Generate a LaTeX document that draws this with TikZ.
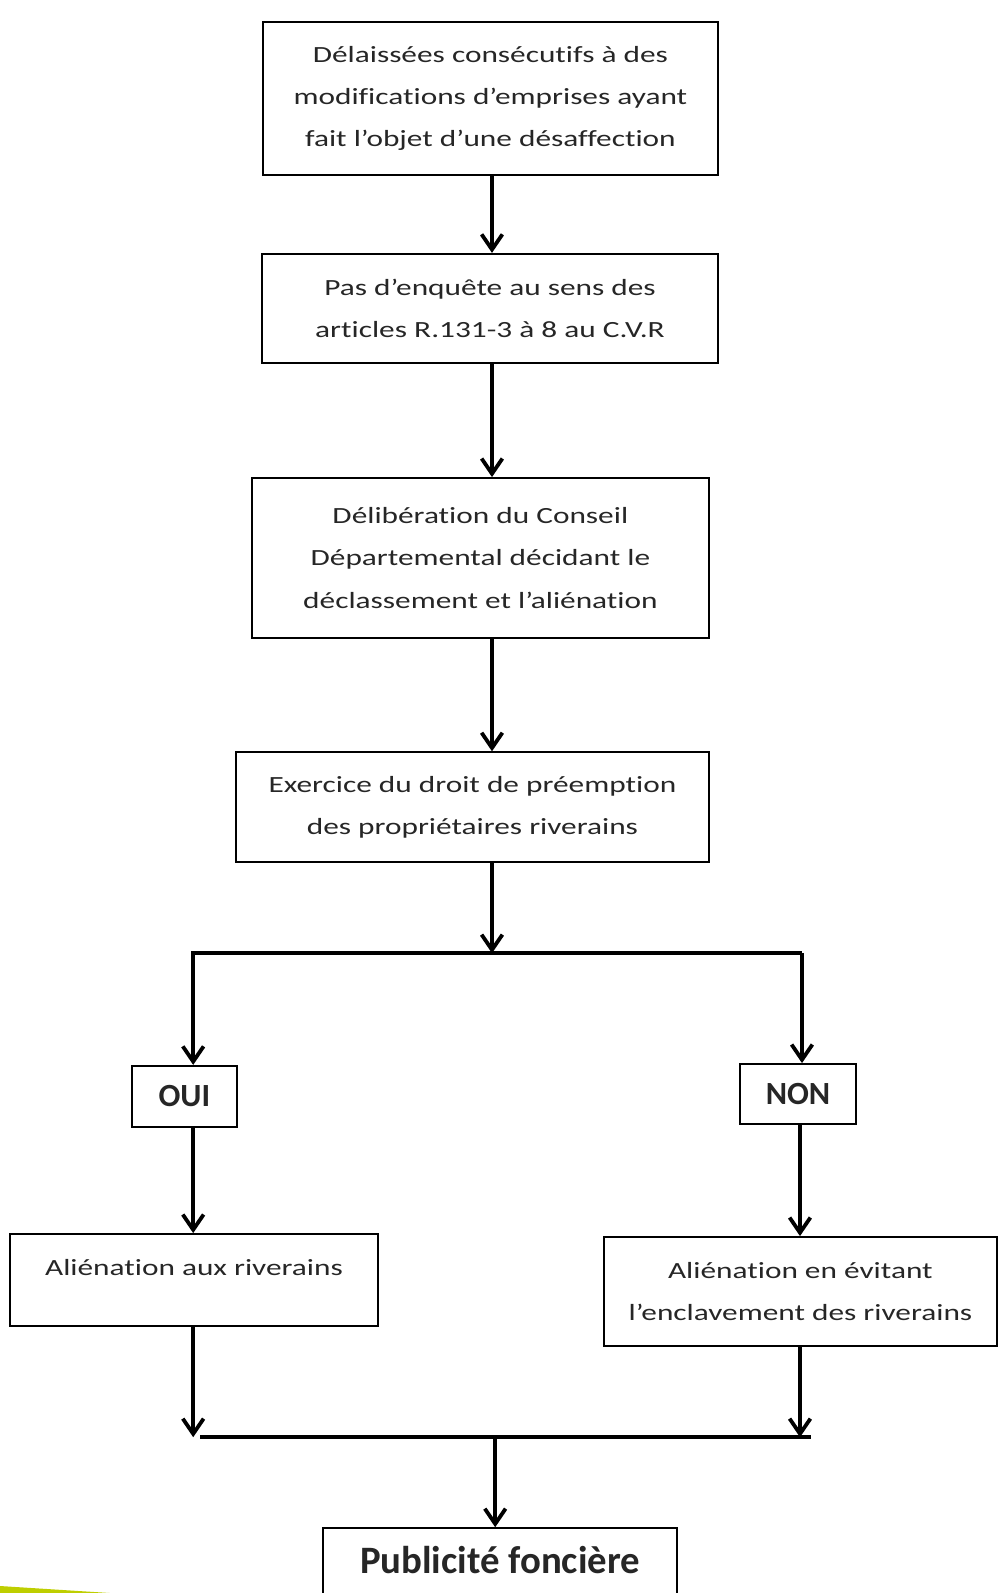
\documentclass[tikz,border=0pt]{standalone}
\usepackage{fontspec}
\setmainfont{Carlito}[Ligatures=NoCommon]
\newfontfamily\widefont{Carlito}[FakeStretch=1.35, Ligatures=NoCommon]
\usepackage{xcolor}
\usepackage{tikz}
\usetikzlibrary{arrows.meta,positioning}
\definecolor{leaf}{RGB}{190,206,0}

\begin{document}
\begin{tikzpicture}[
  font=\widefont\fontsize{16.5}{29.9}\selectfont,
  box/.style={draw, line width=1.3pt, align=center, inner sep=0pt, text=black!85},
  tag/.style={box, font=\fontsize{23}{27}\selectfont\bfseries},
  arr/.style={-{Straight Barb[length=0.38cm, width=0.52cm]}, line width=2.7pt},
  bar/.style={line width=2.9pt}
]
\useasboundingbox (0,0) rectangle (24.95,-39.825);
\clip (0,0) rectangle (24.95,-39.825);

\coordinate (spine) at (12.3,0);
\coordinate (lft) at (4.83,0);
\coordinate (rgt) at (20.0,0);

\node[box, minimum width=11.38cm, minimum height=3.83cm] (del) at (12.26,-2.46)
  {Délaissées consécutifs à des\\modifications d’emprises ayant\\fait l’objet d’une désaffection};
\node[box, minimum width=11.4cm, minimum height=2.73cm] (enq) at (12.25,-7.71)
  {Pas d’enquête au sens des\\articles R.131-3 à 8 au C.V.R};
\node[box, minimum width=11.43cm, minimum height=4.0cm] (cons) at (12.01,-13.95)
  {Délibération du Conseil\\Départemental décidant le\\déclassement et l’aliénation};
\node[box, minimum width=11.83cm, minimum height=2.75cm] (pre) at (11.81,-20.18)
  {Exercice du droit de préemption\\des propriétaires riverains};
\draw[arr] (del.south -| spine) -- (enq.north -| spine);
\draw[arr] (enq.south -| spine) -- (cons.north -| spine);
\draw[arr] (cons.south -| spine) -- (pre.north -| spine);

\coordinate (fork) at (12.3,-23.83);
\coordinate (forkl) at (4.83,-23.83);
\coordinate (forkr) at (20.05,-23.83);
\draw[arr] (pre.south -| spine) -- (fork);

\node[tag, minimum width=2.63cm, minimum height=1.53cm] (oui) at (4.61,-27.41) {OUI};
\node[tag, minimum width=2.9cm, minimum height=1.5cm] (non) at (19.95,-27.35) {NON};
\draw[arr] (forkr) -- (forkl) -- (oui.north -| forkl);
\draw[arr] (forkr) -- (non.north -| forkr);

\node[box, minimum width=9.2cm, minimum height=2.3cm, text depth=0.63cm] (alr) at (4.85,-32.0)
  {Aliénation aux riverains};
\node[box, minimum width=9.83cm, minimum height=2.73cm] (ale) at (20.01,-32.29)
  {Aliénation en évitant\\l’enclavement des riverains};
\draw[arr] (oui.south -| lft) -- (alr.north -| lft);
\draw[arr] (non.south -| rgt) -- (ale.north -| rgt);

\coordinate (mergel) at (5.0,-35.93);
\coordinate (merger) at (20.28,-35.93);
\coordinate (down) at (12.38,-35.93);
\draw[arr] (alr.south -| lft) -- (lft |- mergel);
\draw[arr] (ale.south -| rgt) -- (rgt |- merger);
\draw[bar] (mergel) -- (merger);

\node[box, anchor=north, minimum width=8.85cm, minimum height=2.6cm, text depth=1.0cm,
  font=\fontsize{27.6}{32}\selectfont\bfseries] (pub) at (12.5,-38.18) {Publicité foncière};
\draw[arr] (down) -- (pub.north -| down);

\fill[leaf] (0,-39.65) -- (2.75,-39.825) -- (0,-39.825) -- cycle;
\end{tikzpicture}
\end{document}
